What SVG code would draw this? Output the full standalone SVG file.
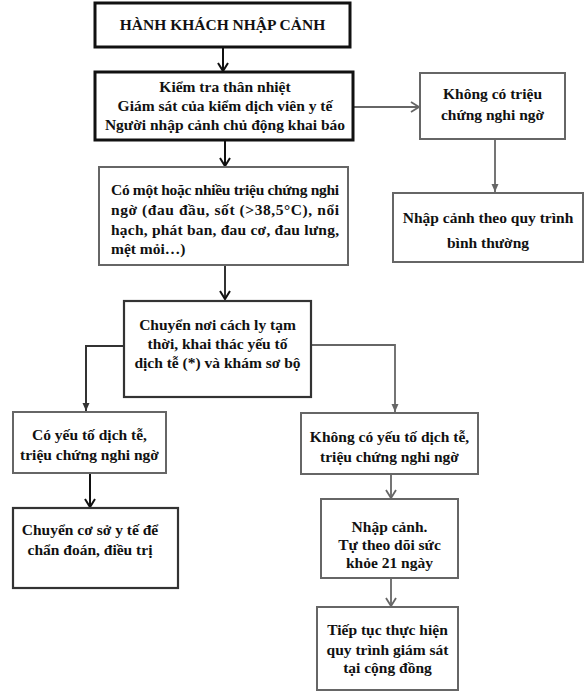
<svg xmlns="http://www.w3.org/2000/svg" width="587" height="691" viewBox="0 0 587 691">
<defs>
<style>
text{font-family:"Liberation Serif","Times New Roman",serif;font-weight:bold;font-size:15.5px;fill:#111;text-anchor:middle}
.thick{fill:#fff;stroke:#111;stroke-width:3}
.dark{fill:#fff;stroke:#333;stroke-width:2.2}
.gray{fill:#fff;stroke:#666;stroke-width:2}
.cb{fill:none;stroke:#111;stroke-width:2}
.cg{fill:none;stroke:#666;stroke-width:1.8}
.cd{fill:none;stroke:#333;stroke-width:2}
.j{text-anchor:start}
</style>
<marker id="vb" markerWidth="12" markerHeight="12" refX="10" refY="6" orient="auto" markerUnits="userSpaceOnUse">
<path d="M2,1 L10,6 L2,11" fill="none" stroke="#111" stroke-width="2"/>
</marker>
<marker id="vg" markerWidth="12" markerHeight="12" refX="10" refY="6" orient="auto" markerUnits="userSpaceOnUse">
<path d="M2,1 L10,6 L2,11" fill="none" stroke="#666" stroke-width="1.8"/>
</marker>
<marker id="fg" markerWidth="10" markerHeight="10" refX="9" refY="5" orient="auto" markerUnits="userSpaceOnUse">
<path d="M1,1.5 L9,5 L1,8.5 Z" fill="#666"/>
</marker>
<marker id="fd" markerWidth="10" markerHeight="10" refX="9" refY="5" orient="auto" markerUnits="userSpaceOnUse">
<path d="M1,1.5 L9,5 L1,8.5 Z" fill="#333"/>
</marker>
</defs>
<rect width="587" height="691" fill="#fff"/>

<g id="connectors">
<line class="cb" x1="223" y1="47" x2="223" y2="71" marker-end="url(#vb)"/>
<line class="cb" x1="225" y1="141" x2="225" y2="166" marker-end="url(#vb)"/>
<line class="cg" x1="354" y1="107" x2="419" y2="107" marker-end="url(#vg)"/>
<line class="cg" x1="495" y1="139" x2="495" y2="192" marker-end="url(#fg)"/>
<line class="cd" x1="225" y1="265" x2="225" y2="299" marker-end="url(#vb)"/>
<polyline class="cd" points="124,346 86,346 86,411" marker-end="url(#fd)"/>
<polyline class="cg" points="311,345 395,345 395,412" marker-end="url(#fg)"/>
<line class="cb" x1="90" y1="473" x2="90" y2="507" marker-end="url(#vb)"/>
<line class="cg" x1="391" y1="474" x2="391" y2="498" marker-end="url(#vg)"/>
<line class="cg" x1="391" y1="578" x2="391" y2="606" marker-end="url(#vg)"/>
</g>

<g id="n1">
<rect class="thick" x="95" y="3" width="255" height="44"/>
<text x="222.5" y="30">HÀNH KHÁCH NHẬP CẢNH</text>
</g>

<g id="n2">
<rect class="thick" x="95" y="72" width="258" height="68"/>
<text x="225" y="92">Kiểm tra thân nhiệt</text>
<text x="225" y="111">Giám sát của kiểm dịch viên y tế</text>
<text x="225" y="130">Người nhập cảnh chủ động khai báo</text>
</g>

<g id="n3">
<rect class="gray" x="420" y="73" width="145" height="66"/>
<text x="492.5" y="99">Không có triệu</text>
<text x="492.5" y="120">chứng nghi ngờ</text>
</g>

<g id="n4">
<rect class="gray" x="393" y="193" width="190" height="69"/>
<text x="488" y="223">Nhập cảnh theo quy trình</text>
<text x="488" y="248">bình thường</text>
</g>

<g id="n5">
<rect class="gray" x="99" y="167" width="249" height="98"/>
<text class="j" x="111" y="195" textLength="228" lengthAdjust="spacing">Có một hoặc nhiều triệu chứng nghi</text>
<text class="j" x="111" y="215" textLength="228" lengthAdjust="spacing">ngờ (đau đầu, sốt (&gt;38,5°C), nổi</text>
<text class="j" x="111" y="235" textLength="228" lengthAdjust="spacing">hạch, phát ban, đau cơ, đau lưng,</text>
<text class="j" x="111" y="254">mệt mỏi…)</text>
</g>

<g id="n6">
<rect class="dark" x="124" y="301" width="187" height="96"/>
<text x="217.5" y="330">Chuyển nơi cách ly tạm</text>
<text x="217.5" y="349">thời, khai thác yếu tố</text>
<text x="217.5" y="368">dịch tễ (*) và khám sơ bộ</text>
</g>

<g id="n7">
<rect class="gray" x="13" y="412" width="153" height="61"/>
<text x="89.5" y="440">Có yếu tố dịch tễ,</text>
<text x="89.5" y="460">triệu chứng nghi ngờ</text>
</g>

<g id="n8">
<rect class="dark" x="13" y="508" width="165" height="80"/>
<text x="90" y="535">Chuyển cơ sở y tế để</text>
<text x="90" y="555">chẩn đoán, điều trị</text>
</g>

<g id="n9">
<rect class="gray" x="301" y="413" width="177" height="61"/>
<text x="389.5" y="442">Không có yếu tố dịch tễ,</text>
<text x="389.5" y="462">triệu chứng nghi ngờ</text>
</g>

<g id="n10">
<rect class="gray" x="321" y="499" width="137" height="79"/>
<text x="389.5" y="532">Nhập cảnh.</text>
<text x="389.5" y="550">Tự theo dõi sức</text>
<text x="389.5" y="568">khỏe 21 ngày</text>
</g>

<g id="n11">
<rect class="gray" x="317" y="607" width="141" height="83"/>
<text x="387.5" y="635">Tiếp tục thực hiện</text>
<text x="387.5" y="655">quy trình giám sát</text>
<text x="387.5" y="673">tại cộng đồng</text>
</g>
</svg>
